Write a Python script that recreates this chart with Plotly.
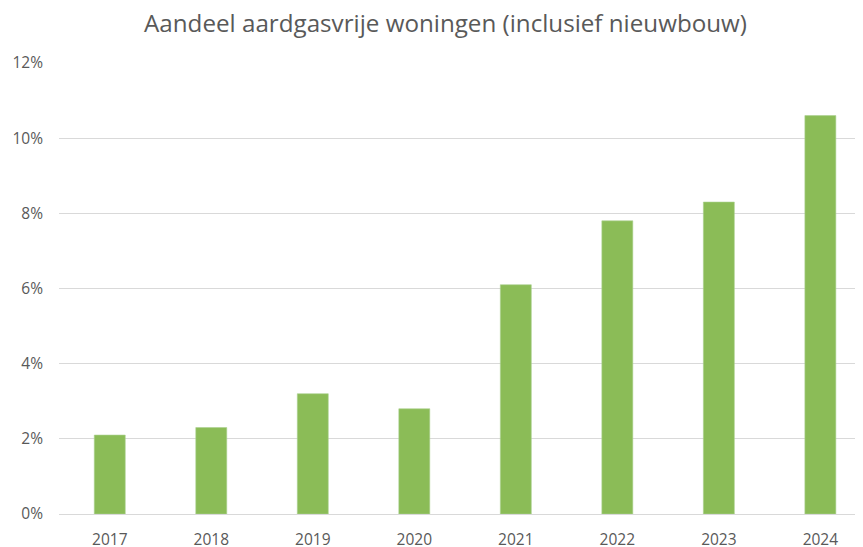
import plotly.graph_objects as go

years = ["2017", "2018", "2019", "2020", "2021", "2022", "2023", "2024"]
share = [0.021, 0.023, 0.032, 0.028, 0.061, 0.078, 0.083, 0.106]
y_ticks = [0, 0.02, 0.04, 0.06, 0.08, 0.10, 0.12]
y_tick_labels = ["0%", "2%", "4%", "6%", "8%", "10%", "12%"]

FONT = "Open Sans, Lato, sans-serif"

fig = go.Figure(go.Bar(
    x=years, y=share,
    marker=dict(color="#8BBC57", line=dict(color="#A9D08E", width=0.6)),
    hoverinfo="x+y",
))

# page body has an 8px margin, so the figure is sized 8px smaller
fig.update_layout(
    width=855, height=539,
    paper_bgcolor="white", plot_bgcolor="white",
    margin=dict(l=51, r=0, t=55, b=32.5, autoexpand=False),
    bargap=0.695,
    showlegend=False,
    font=dict(family=FONT, color="#595959"),
    title=dict(text="Aandeel aardgasvrije woningen (inclusief nieuwbouw)",
               x=0.5117, xanchor="center", y=0.972, yanchor="middle",
               font=dict(size=24.2, color="#595959", family=FONT)),
    xaxis=dict(type="category", range=[-0.5, 7.42], showgrid=False, showline=True,
               linecolor="#D9D9D9", linewidth=1, ticks="", automargin=False,
               tickfont=dict(size=15.5, color="#595959", family=FONT),
               ticklabelstandoff=11),
    yaxis=dict(range=[0, 0.12], tickvals=y_ticks, ticktext=y_tick_labels,
               showgrid=True, gridcolor="#D9D9D9", gridwidth=1, zeroline=False,
               showline=False, ticks="", automargin=False,
               tickfont=dict(size=15.5, color="#595959", family=FONT),
               ticklabelstandoff=15),
)

fig.write_html("out.html")
